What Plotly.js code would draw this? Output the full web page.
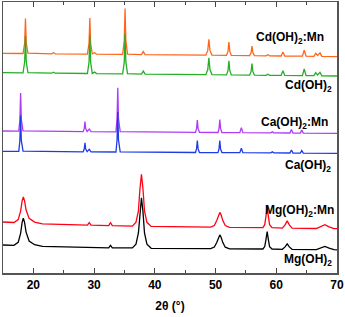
<!DOCTYPE html>
<html>
<head>
<meta charset="utf-8">
<script src="https://cdn.plot.ly/plotly-3.0.1.min.js"></script>
<style>html,body{margin:0;padding:0;background:#fff;}#chart{width:345px;height:317px;}</style>
</head>
<body>
<div id="chart"></div>
<script>
// 2θ positions (degrees) and stacked intensities (a.u.)
const cdTheta = [15,18.3,18.57,18.7,18.83,19.1,23.0,23.3,23.6,28.9,29.17,29.3,29.43,29.7,30.1,30.4,34.7,34.97,35.1,35.23,35.5,37.8,38.1,38.4,48.4,48.72,48.9,49.08,49.4,51.8,52.05,52.2,52.35,52.6,55.6,55.85,56.0,56.15,56.4,58.3,58.6,58.9,60.8,61.1,61.4,64.3,64.6,64.9,66.2,66.5,66.8,67.2,67.5,70];
const cdMnInt = [219.7,219.5,230.0,254.5,230.0,219.8,219.2,220.2,219.2,218.9,229.7,254.9,229.7,219.2,220.3,218.8,218.6,232.4,264.6,232.4,218.8,218.4,221.4,218.4,217.8,222.6,233.8,222.6,217.9,217.6,221.6,230.9,221.6,217.6,217.4,220.2,226.9,220.2,217.4,217.2,218.2,217.2,217.0,221.0,217.0,216.8,222.8,216.8,216.7,219.7,217.5,220.1,216.6,216.4];
const cdInt = [200.3,200.1,211.2,237.1,211.2,200.3,199.8,200.8,199.8,199.5,210.8,237.4,210.8,199.6,200.9,199.4,199.1,211.1,239.1,211.1,199.3,198.9,201.9,198.9,198.3,203.4,215.3,203.4,198.4,198.1,202.3,212.1,202.3,198.1,197.9,201.3,209.5,201.3,197.9,197.7,198.7,197.7,197.6,202.2,197.6,197.3,204.0,197.3,197.3,200.3,198.0,200.7,197.2,197.0];

const caTheta = [15,17.6,17.78,17.9,18.02,18.3,28.2,28.38,28.5,28.62,28.85,29.2,29.5,33.6,33.78,33.9,34.02,34.3,46.7,46.87,47.0,47.13,47.35,50.4,50.57,50.7,50.83,51.05,54.0,54.25,54.5,59.1,59.35,59.6,62.25,62.5,62.75,63.95,64.2,64.45,70];
const caMnInt = [142.0,141.9,153.3,179.9,153.3,142.1,141.4,144.4,151.4,144.4,141.5,143.9,141.4,141.2,154.4,185.2,154.4,141.3,140.7,144.4,153.0,144.4,140.7,140.5,144.4,153.5,144.4,140.5,140.4,145.4,140.4,140.1,141.1,140.1,140.0,143.5,140.0,139.9,142.9,139.9,139.7];
const caInt = [121.7,121.6,132.4,157.6,132.4,121.8,121.2,123.9,130.2,123.9,121.3,123.7,121.2,121.0,133.0,161.0,133.0,121.1,120.5,124.1,132.5,124.1,120.5,120.4,124.0,132.4,124.0,120.4,120.3,124.8,120.3,120.1,121.1,120.1,120.0,123.0,120.0,119.9,122.4,119.9,119.7];

const mgTheta = [15,16.8,17.5,17.9,18.15,18.35,18.55,18.8,19.3,20.2,21.5,28.9,29.2,29.5,32.4,32.7,33.0,36.3,36.9,37.3,37.55,37.8,38.05,38.3,38.7,39.4,49.2,49.8,50.2,50.5,50.7,50.9,51.2,51.6,52.3,57.8,58.1,58.3,58.5,58.7,58.9,59.3,61.0,61.45,61.8,62.15,62.6,66.6,67.3,68.0,68.7,69.5,70];
const mgMnInt = [51.0,50.5,53.4,61.9,72.2,76.1,72.1,63.0,54.6,50.9,49.2,47.9,50.3,47.8,47.3,50.3,47.3,46.9,50.9,62.2,84.0,98.6,84.0,62.2,50.7,46.6,45.8,47.5,52.4,58.4,60.6,58.4,52.4,47.4,45.6,45.3,48.3,56.7,66.1,56.7,48.3,45.3,44.9,48.1,52.1,48.1,44.9,44.5,46.2,48.4,46.2,44.4,44.3];
const mgInt = [28.0,27.6,30.7,39.7,50.6,54.7,50.6,40.9,32.0,28.3,26.6,25.5,25.5,25.5,25.2,27.7,25.2,25.1,28.9,40.0,61.2,75.3,61.2,40.0,28.8,24.7,24.3,25.9,30.4,36.0,38.1,36.0,30.4,25.8,24.1,24.0,26.4,33.4,41.3,33.4,26.4,24.0,23.7,26.1,29.2,26.1,23.7,23.4,24.8,26.6,24.8,23.3,23.2];

const seriesNames = ['Cd(OH)<sub>2</sub>:Mn','Cd(OH)<sub>2</sub>','Ca(OH)<sub>2</sub>:Mn','Ca(OH)<sub>2</sub>','Mg(OH)<sub>2</sub>:Mn','Mg(OH)<sub>2</sub>'];
const labelLevels = [235, 187, 150, 107, 62, 13];
const xTickVals = [20, 30, 40, 50, 60, 70];

const seriesX = [cdTheta, cdTheta, caTheta, caTheta, mgTheta, mgTheta];
const seriesY = [cdMnInt, cdInt, caMnInt, caInt, mgMnInt, mgInt];
const colors = ['rgb(255,102,26)','rgb(36,175,36)','rgb(175,60,245)','rgb(30,60,230)','rgb(255,0,20)','rgb(0,0,0)'];
const labelX = [0.968, 0.99, 0.978, 0.987, 0.996, 0.99];

const traces = seriesX.map((xs, i) => ({
  x: xs, y: seriesY[i], type: 'scatter', mode: 'lines', name: seriesNames[i],
  line: {color: colors[i], width: 1.3}, hoverinfo: 'skip'
}));

const fontB = {family: 'Liberation Sans, Arial, sans-serif', size: 12, color: '#000', weight: 'bold'};

const annotations = seriesNames.map((t, i) => ({
  text: t, xref: 'paper', yref: 'y', x: labelX[i], y: labelLevels[i],
  xanchor: 'right', yanchor: 'middle', showarrow: false, font: fontB
}));

const layout = {
  width: 345, height: 317,
  margin: {l: 3, r: 8, t: 2, b: 44},
  paper_bgcolor: '#fff', plot_bgcolor: '#fff',
  showlegend: false,
  xaxis: {
    range: [15, 70], tickvals: xTickVals, ticks: 'inside', ticklen: 5, tickwidth: 1, tickcolor: '#444',
    showline: true, linecolor: '#555', linewidth: 1.5, mirror: 'ticks',
    minor: {dtick: 5, tick0: 0, ticks: 'inside', ticklen: 3, tickcolor: '#444', tickwidth: 1},
    showgrid: false, zeroline: false, tickfont: fontB,
    title: {text: '2θ (°)', font: fontB, standoff: 10}
  },
  yaxis: {
    range: [0, 271], showticklabels: false, ticks: '', showline: true, linecolor: '#555', linewidth: 1.5,
    mirror: true, showgrid: false, zeroline: false
  },
  annotations: annotations
};

Plotly.newPlot('chart', traces, layout, {staticPlot: true, displayModeBar: false});
</script>
</body>
</html>
